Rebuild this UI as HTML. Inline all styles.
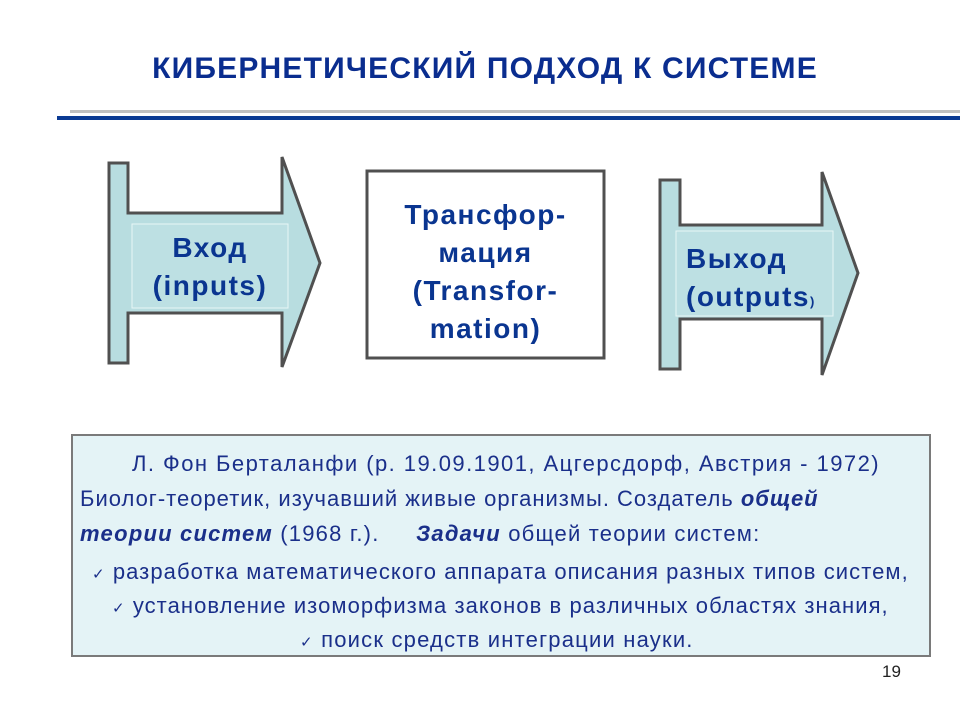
<!DOCTYPE html>
<html><head><meta charset="utf-8"><style>
body{margin:0;width:960px;height:720px;background:#fff;position:relative;overflow:hidden;font-family:"Liberation Sans",sans-serif}
.t{position:absolute;white-space:nowrap;color:#1a2f8a;font-size:22px;letter-spacing:1.1px}
.b{font-size:28px;font-weight:bold;line-height:38px;color:#0a3590;letter-spacing:1.5px}
</style></head><body>
<div class="t" style="left:5px;width:960px;text-align:center;top:52px;font-size:30px;font-weight:bold;color:#0a2d8f;letter-spacing:1.2px">КИБЕРНЕТИЧЕСКИЙ ПОДХОД К СИСТЕМЕ</div>
<div style="position:absolute;left:70px;top:110px;width:890px;height:3px;background:#c0c0c0"></div>
<div style="position:absolute;left:57px;top:116px;width:903px;height:4px;background:#0a3a93"></div>
<svg width="960" height="720" style="position:absolute;left:0;top:0">
<polygon points="109,163 128,163 128,213 282,213 282,157 320,263 282,367 282,313 128,313 128,363 109,363" fill="#b8dde0" stroke="#505050" stroke-width="3"/>
<rect x="132" y="224" width="156" height="84" fill="#bde0e3" stroke="#e8f6f6" stroke-width="1"/>
<polygon points="660,180 680,180 680,225 822,225 822,172 858,273 822,375 822,319 680,319 680,369 660,369" fill="#b8dde0" stroke="#505050" stroke-width="3"/>
<rect x="676" y="231" width="157" height="85" fill="#bde0e3" stroke="#e8f6f6" stroke-width="1"/>
<rect x="367" y="171" width="237" height="187" fill="#fff" stroke="#505050" stroke-width="3"/>
<rect x="72" y="435" width="858" height="221" fill="#e4f3f6" stroke="#7a7a7a" stroke-width="2"/>
</svg>
<div class="t b" style="left:132px;width:156px;text-align:center;top:229px">Вход<br>(inputs)</div>
<div class="t b" style="left:686px;top:240px">Выход<br>(outputs<span style="font-size:13px">)</span></div>
<div class="t b" style="left:367px;width:237px;text-align:center;top:196px">Трансфор-<br>мация<br>(Transfor-<br>mation)</div>
<div class="t" style="left:132px;top:451px;letter-spacing:1.45px">Л. Фон Берталанфи (р. 19.09.1901, Ацгерсдорф, Австрия - 1972)</div>
<div class="t" style="left:80px;top:486px;letter-spacing:1px">Биолог-теоретик, изучавший живые организмы. Создатель <b><i>общей</i></b></div>
<div class="t" style="left:80px;top:521px;letter-spacing:1.2px"><b><i>теории систем</i></b> (1968 г.). &nbsp;&nbsp;&nbsp; <b><i>Задачи</i></b> общей теории систем:</div>
<div class="t" style="left:92px;top:559px;letter-spacing:1.07px"><span style="font-size:15px">✓</span> разработка математического аппарата описания разных типов систем,</div>
<div class="t" style="left:112px;top:593px;letter-spacing:1.06px"><span style="font-size:15px">✓</span> установление изоморфизма законов в различных областях знания,</div>
<div class="t" style="left:300px;top:627px;letter-spacing:1.2px"><span style="font-size:15px">✓</span> поиск средств интеграции науки.</div>
<div class="t" style="left:882px;top:662px;font-size:17px;color:#222;letter-spacing:0">19</div>
</body></html>
